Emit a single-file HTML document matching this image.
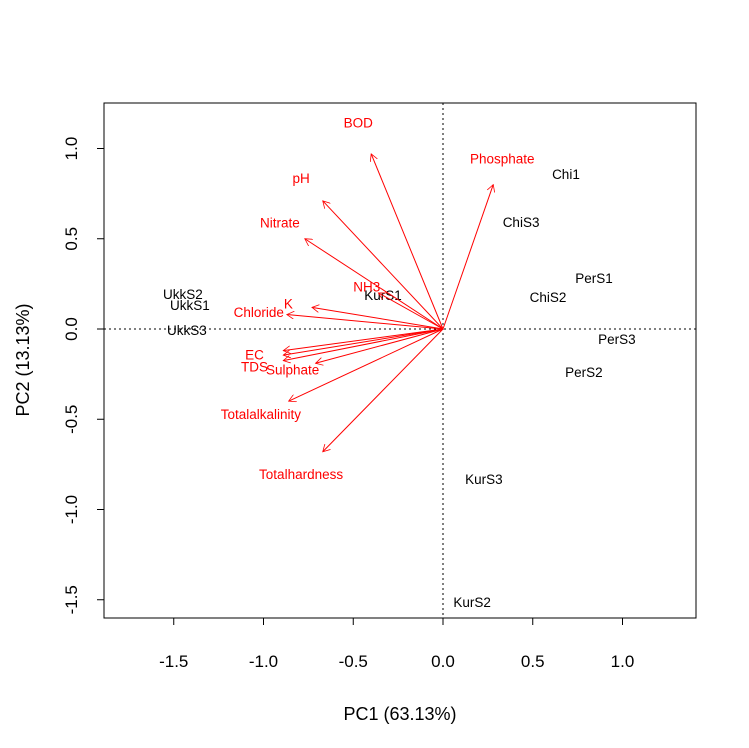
<!DOCTYPE html>
<html><head><meta charset="utf-8"><style>
body{margin:0;background:#fff}
svg{display:block;font-family:"Liberation Sans",Arial,sans-serif}
</style></head><body>
<svg id="chart" width="749" height="748" viewBox="0 0 749 748">
<defs><marker id="ah" viewBox="0 0 10 10" refX="9" refY="5" markerWidth="8" markerHeight="8" orient="auto-start-reverse" markerUnits="userSpaceOnUse"><path d="M0,0 L9,5 L0,10" fill="none" stroke="red" stroke-width="1"/></marker></defs>
<rect x="104" y="103" width="592" height="515" fill="none" stroke="#000"/>
<g id="axes"></g><g id="marks"></g>
<text x="400" y="720" font-size="18" text-anchor="middle">PC1 (63.13%)</text>
<text x="29" y="360" font-size="18" text-anchor="middle" transform="rotate(-90 29 360)">PC2 (13.13%)</text>
</svg>
<script>
const xTicks=[-1.5,-1.0,-0.5,0.0,0.5,1.0];
const yTicks=[-1.5,-1.0,-0.5,0.0,0.5,1.0];
const sampleNames=["UkkS2","UkkS1","UkkS3","KurS1","ChiS3","Chi1","PerS1","ChiS2","PerS3","PerS2","KurS3","KurS2"];
const samplePC1=[-1.449,-1.410,-1.427,-0.334,0.435,0.685,0.841,0.585,0.969,0.785,0.228,0.162];
const samplePC2=[0.194,0.133,-0.006,0.188,0.593,0.859,0.283,0.177,-0.055,-0.238,-0.831,-1.512];
const varNames=["BOD","pH","Nitrate","NH3","K","Chloride","EC","","TDS","Sulphate","Totalalkalinity","Totalhardness","Phosphate"];
const varPC1=[-0.40,-0.67,-0.77,-0.36,-0.73,-0.87,-0.89,-0.89,-0.89,-0.71,-0.86,-0.67,0.28];
const varPC2=[0.97,0.71,0.50,0.20,0.12,0.08,-0.12,-0.145,-0.175,-0.19,-0.40,-0.68,0.80];
const NS="http://www.w3.org/2000/svg";
const X=v=>443+v*179.5, Y=v=>329-v*180.5;
function mk(t,a,p){const e=document.createElementNS(NS,t);for(const k in a)e.setAttribute(k,a[k]);p.appendChild(e);return e;}
const ax=document.getElementById('axes'), mg=document.getElementById('marks');
mk('line',{x1:X(-1.5),x2:X(1.0),y1:618,y2:618,stroke:'#000'},ax);
mk('line',{y1:Y(-1.5),y2:Y(1.0),x1:104,x2:104,stroke:'#000'},ax);
xTicks.forEach(t=>{
 const l=mk('line',{x1:X(t),x2:X(t),y1:618,y2:625,stroke:'#000'},ax);
 
 
 const s=mk('text',{x:X(t),y:667,'font-size':17,'text-anchor':'middle'},ax);s.textContent=t.toFixed(1);
 
 
});
yTicks.forEach(t=>{
 const l=mk('line',{x1:97,x2:104,y1:Y(t),y2:Y(t),stroke:'#000'},ax);
 
 
 const s=mk('text',{x:77,y:Y(t),'font-size':17,'text-anchor':'middle',transform:`rotate(-90 77 ${Y(t)})`},ax);s.textContent=t.toFixed(1);
 
 
});
const h=mk('line',{x1:104,x2:696,y1:Y(0),y2:Y(0),stroke:'#000','stroke-dasharray':'2,3'},ax);


const v=mk('line',{x1:X(0),x2:X(0),y1:103,y2:618,stroke:'#000','stroke-dasharray':'2,3'},ax);


sampleNames.forEach((n,i)=>{
 const s=mk('text',{x:X(samplePC1[i]),y:Y(samplePC2[i])+5,'font-size':13.5,'text-anchor':'middle'},mg);s.textContent=n;
 
 
});
varNames.forEach((n,i)=>{
 const a=mk('line',{x1:X(0),y1:Y(0),x2:X(varPC1[i]),y2:Y(varPC2[i]),stroke:'red','stroke-width':1,'marker-end':'url(#ah)'},mg);
 
 
 if(n){const s=mk('text',{x:X(varPC1[i]*1.18),y:Y(varPC2[i]*1.18)+5,'font-size':13.5,'text-anchor':'middle',fill:'red'},mg);s.textContent=n;
 
 }
});
</script>
</body></html>
